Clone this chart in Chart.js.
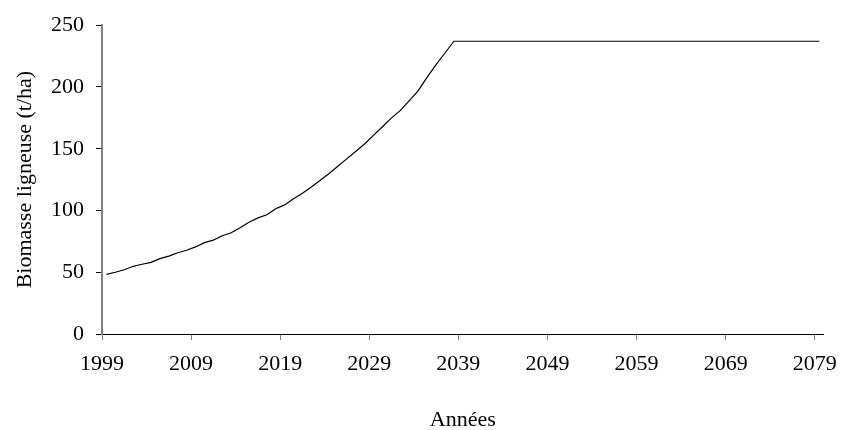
<!DOCTYPE html>
<html>
<head>
<meta charset="utf-8">
<script src="https://cdn.jsdelivr.net/npm/chart.js@4.4.0/dist/chart.umd.min.js"></script>
<style>
  html, body { margin: 0; padding: 0; background: #fff; }
  #wrap { width: 848px; height: 430px; }
</style>
</head>
<body>
<div id="wrap"><canvas id="myChart" width="848" height="430"></canvas></div>
<script>
// years 1999 -> 2079, one value per year
const firstYear = 1999;
const biomass = [
  48.3, 50, 52, 54.8, 56.5, 58, 61, 63, 65.8, 67.8,
  70.5, 74, 76, 79.5, 82, 86, 90.5, 94, 96.5, 101.4,
  104.5, 109.5, 114, 119, 124.5, 130, 136, 142, 148, 154,
  161, 168, 175, 181, 189, 197, 208, 218, 227.5, 237,
  237, 237, 237, 237, 237, 237, 237, 237, 237, 237,
  237, 237, 237, 237, 237, 237, 237, 237, 237, 237,
  237, 237, 237, 237, 237, 237, 237, 237, 237, 237,
  237, 237, 237, 237, 237, 237, 237, 237, 237, 237,
  237
];
const tickYears = [1999, 2009, 2019, 2029, 2039, 2049, 2059, 2069, 2079];
const yTicks = [0, 50, 100, 150, 200, 250];

const serif = 'Liberation Serif';

// point sits in the middle of its year (like the excel category)
let points = biomass.map((v, i) => ({ x: firstYear + i + 0.5, y: v }));

let ctx = document.getElementById('myChart').getContext('2d');
let chart = new Chart(ctx, {
    type: 'line',
    data: {
        datasets: [{
            data: points,
            borderColor: '#000',
            borderWidth: 1.2,
            pointRadius: 0,
            tension: 0,
            fill: false
        }]
    },
    options: {
        responsive: false,
        animation: false,
        events: [],
        layout: { padding: { top: 24, right: 22, bottom: 0, left: 0 } },
        plugins: { legend: { display: false }, tooltip: { enabled: false } },
        scales: {
            x: {
                type: 'linear',
                min: 1999,
                max: 2080,
                afterBuildTicks: scale => { scale.ticks = tickYears.map(v => ({ value: v })); },
                afterFit: scale => { scale.height = 96; },
                border: { color: '#000', width: 1 },
                grid: { drawOnChartArea: false, drawTicks: true, tickLength: 6, color: '#808080' },
                ticks: {
                    autoSkip: false,
                    maxRotation: 0,
                    padding: 11,
                    color: '#000',
                    font: { family: serif, size: 22 },
                    callback: v => String(v)
                },
                title: {
                    display: true,
                    text: 'Années',
                    color: '#000',
                    font: { family: serif, size: 22, lineHeight: 0.9 },
                    padding: { top: 0, bottom: 0 }
                }
            },
            y: {
                min: 0,
                max: 250,
                afterBuildTicks: scale => { scale.ticks = yTicks.map(v => ({ value: v })); },
                afterFit: scale => { scale.width = 102; },
                border: { color: '#808080', width: 2 },
                grid: { drawOnChartArea: false, drawTicks: true, tickLength: 6, color: '#000' },
                ticks: {
                    padding: 12,
                    color: '#000',
                    font: { family: serif, size: 22 }
                },
                title: {
                    display: true,
                    text: 'Biomasse ligneuse (t/ha)',
                    color: '#000',
                    font: { family: serif, size: 22, lineHeight: 1.2 },
                    padding: { top: 12, bottom: 0 }
                }
            }
        }
    }
});
</script>
</body>
</html>
